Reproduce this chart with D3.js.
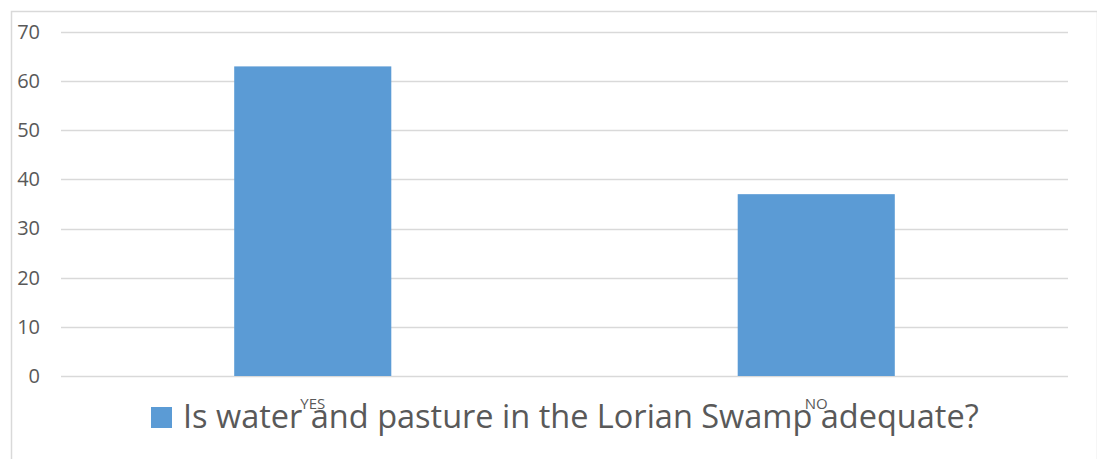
<!DOCTYPE html>
<html><head><meta charset="utf-8">
<script src="https://cdn.jsdelivr.net/npm/d3@7"></script>
<style>body{margin:0;background:#fff;}svg{display:block;}</style>
</head><body>
<script>
const categories = ["YES", "NO"];
const values = [63, 37];
const yTicks = [0, 10, 20, 30, 40, 50, 60, 70];
const seriesName = "Is water and pasture in the Lorian Swamp adequate?";

const W = 1097, H = 459;
const svg = d3.select("body").append("svg").attr("width", W).attr("height", H);

// chart border
svg.append("rect").attr("x", 11.5).attr("y", 11.5).attr("width", W - 11).attr("height", H)
  .attr("fill", "none").attr("stroke", "#d9d9d9").attr("stroke-width", 1.5);

const x = d3.scaleBand().domain(categories).range([61, 1068]).paddingInner(0.688).paddingOuter(0.344);
const y = d3.scaleLinear().domain([0, 70]).range([376, 32]);

const grid = svg.append("g");
grid.selectAll("line").data(yTicks).join("line")
  .attr("x1", 61).attr("x2", 1068)
  .attr("y1", d => Math.round(y(d)) + 0.5).attr("y2", d => Math.round(y(d)) + 0.5)
  .attr("stroke", "#d9d9d9").attr("stroke-width", 1.5);

const yAxis = d3.axisLeft(y).tickValues(yTicks).tickSize(0).tickPadding(0);
const gy = svg.append("g").attr("transform", "translate(40,0)").call(yAxis);
gy.select(".domain").remove();
gy.selectAll("text").attr("fill", "#595959").style("font-family", "'Open Sans', sans-serif").style("font-size", "20px").attr("text-anchor", "end");

svg.append("g").selectAll("rect").data(values).join("rect")
  .attr("x", (d, i) => x(categories[i]))
  .attr("width", x.bandwidth())
  .attr("y", d => y(d))
  .attr("height", d => y(0) - y(d))
  .attr("fill", "#5B9BD5");

const xAxis = d3.axisBottom(x).tickSize(0).tickPadding(0);
const gx = svg.append("g").attr("transform", "translate(0,398)").call(xAxis);
gx.select(".domain").remove();
gx.selectAll("text").attr("fill", "#595959").attr("dy", "0.71em").style("font-family", "'Open Sans', sans-serif").style("font-size", "15px");

// legend
const lg = svg.append("g");
lg.append("rect").attr("x", 151).attr("y", 407).attr("width", 21).attr("height", 21).attr("fill", "#5B9BD5");
lg.append("text").attr("x", 183).attr("y", 428).text(seriesName)
  .attr("fill", "#595959").style("font-family", "'Open Sans', sans-serif").style("font-size", "32.5px");
</script>
</body></html>
